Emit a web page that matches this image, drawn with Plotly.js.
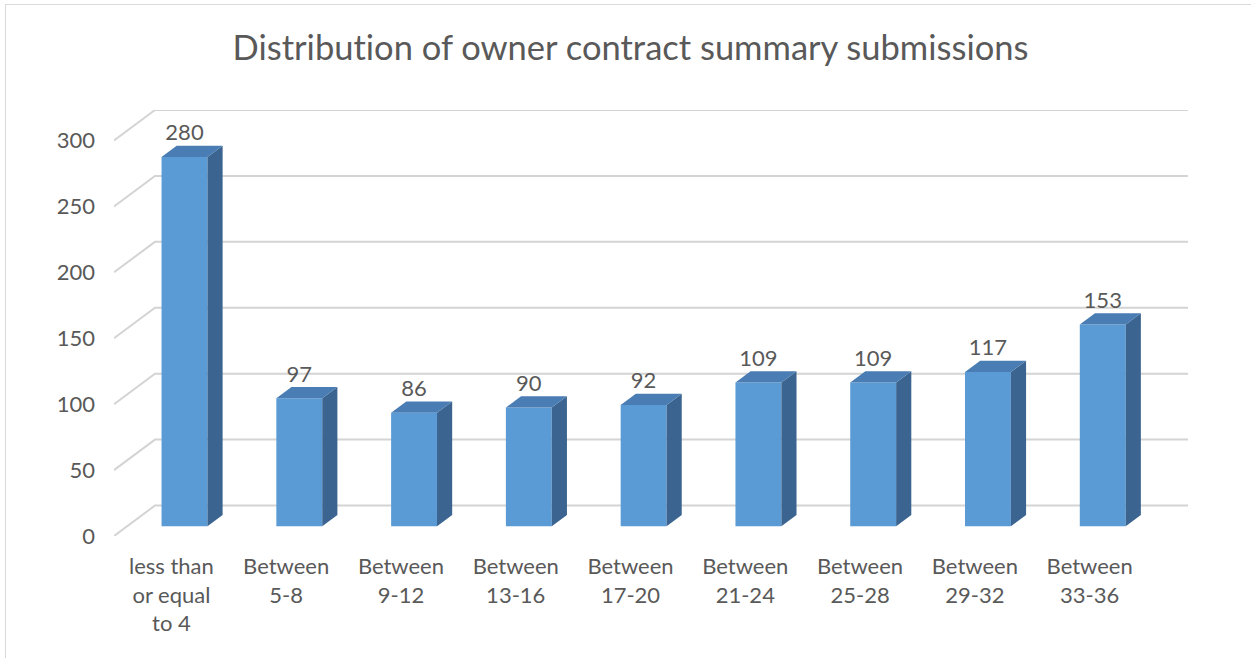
<!DOCTYPE html>
<html>
<head>
<meta charset="utf-8">
<script src="https://cdn.plot.ly/plotly-3.0.1.min.js"></script>
<style>
html,body{margin:0;padding:0;background:#fff;}
#chart{position:absolute;left:0;top:0;width:1251px;height:658px;}
#chart text{font-variant-ligatures:none;font-feature-settings:"liga" 0;}
#frame{position:absolute;left:5px;top:4px;width:1260px;height:670px;border-left:1.5px solid #d9d9d9;border-top:1.5px solid #d9d9d9;pointer-events:none;}
</style>
</head>
<body>
<div id="chart"></div>
<div id="frame"></div>
<script>
// ---- data ----
const categories = ["less than<br>or equal<br>to 4", "Between<br>5-8", "Between<br>9-12", "Between<br>13-16",
  "Between<br>17-20", "Between<br>21-24", "Between<br>25-28", "Between<br>29-32", "Between<br>33-36"];
const submissions = [280, 97, 86, 90, 92, 109, 109, 117, 153];
const yTicks = [0, 50, 100, 150, 200, 250, 300];
const chartTitle = "Distribution of owner contract summary submissions";

// ---- 3D projection settings (depth 0 = front plane, 1 = back wall) ----
const KX = 0.357;   // category units per unit depth
const KY = 23.1;    // value units per unit depth
const D0 = 0.32, D1 = 0.69;  // bar front / back depth
const W = 0.2;      // half bar width
const FONT = 'Lato, "Open Sans", sans-serif';
const TXT = '#595959';
const FRONT = '#5b9bd5', TOP = '#4a7db3', SIDE = '#3b6590';
const proj = (c, v, d) => [c + d * KX, v + d * KY];

const idx = categories.map((_, i) => i);
const nC = categories.length;
const traces = [];

// gridlines (left wall diagonal + back wall horizontal) as shapes below the traces
const shapes = yTicks.map(v => {
  const a = proj(-0.5, v, 0), b = proj(-0.5, v, 1), e = proj(nC - 0.5, v, 1);
  return {type: 'path', xref: 'x', yref: 'y', layer: 'below',
    path: `M${a[0]},${a[1]} L${b[0]},${b[1]} L${e[0]},${e[1]}`,
    line: {color: '#d4d4d4', width: 2}};
});

// front faces as a real bar trace
traces.push({type: 'bar', x: idx.map(i => i + D0 * KX), y: submissions, base: D0 * KY,
  width: 2 * W, marker: {color: FRONT, line: {width: 0}}, showlegend: false, hoverinfo: 'y'});

// side and top faces
submissions.forEach((v, i) => {
  const side = [proj(i + W, 0, D0), proj(i + W, 0, D1), proj(i + W, v, D1), proj(i + W, v, D0), proj(i + W, 0, D0)];
  const top = [proj(i - W, v, D0), proj(i + W, v, D0), proj(i + W, v, D1), proj(i - W, v, D1), proj(i - W, v, D0)];
  traces.push({type: 'scatter', mode: 'lines', x: side.map(p => p[0]), y: side.map(p => p[1]),
    fill: 'toself', fillcolor: SIDE, line: {width: 0, color: SIDE}, hoverinfo: 'skip', showlegend: false});
  traces.push({type: 'scatter', mode: 'lines', x: top.map(p => p[0]), y: top.map(p => p[1]),
    fill: 'toself', fillcolor: TOP, line: {width: 0, color: TOP}, hoverinfo: 'skip', showlegend: false});
});

// data labels
traces.push({type: 'scatter', mode: 'text', x: idx.map(i => i + D0 * KX),
  y: submissions.map(v => v + D1 * KY), text: submissions.map(String), textposition: 'top center',
  textfont: {family: FONT, size: 22, color: TXT}, cliponaxis: false, hoverinfo: 'skip', showlegend: false});

const layout = {
  width: 1251, height: 658,
  margin: {l: 114, r: 63, t: 110, b: 122},
  paper_bgcolor: '#ffffff', plot_bgcolor: 'rgba(0,0,0,0)',
  barmode: 'overlay',
  shapes: shapes,
  title: {text: chartTitle, x: 0.504, xref: 'container', y: 0.927, yref: 'container', yanchor: 'middle',
    font: {family: FONT, size: 34.5, color: TXT}},
  xaxis: {range: [-0.5, nC - 0.5 + KX], tickvals: idx, ticktext: categories, showgrid: false,
    zeroline: false, showline: false, ticks: '', ticklabelstandoff: 15,
    tickfont: {family: FONT, size: 22, color: TXT}, fixedrange: true},
  yaxis: {range: [0, 300 + KY], tickvals: yTicks, showgrid: false, zeroline: false, showline: false,
    ticks: '', ticklabelstandoff: 18, tickfont: {family: FONT, size: 22, color: TXT}, fixedrange: true},
  showlegend: false
};

Plotly.newPlot('chart', traces, layout, {displayModeBar: false, staticPlot: true});
</script>
</body>
</html>
